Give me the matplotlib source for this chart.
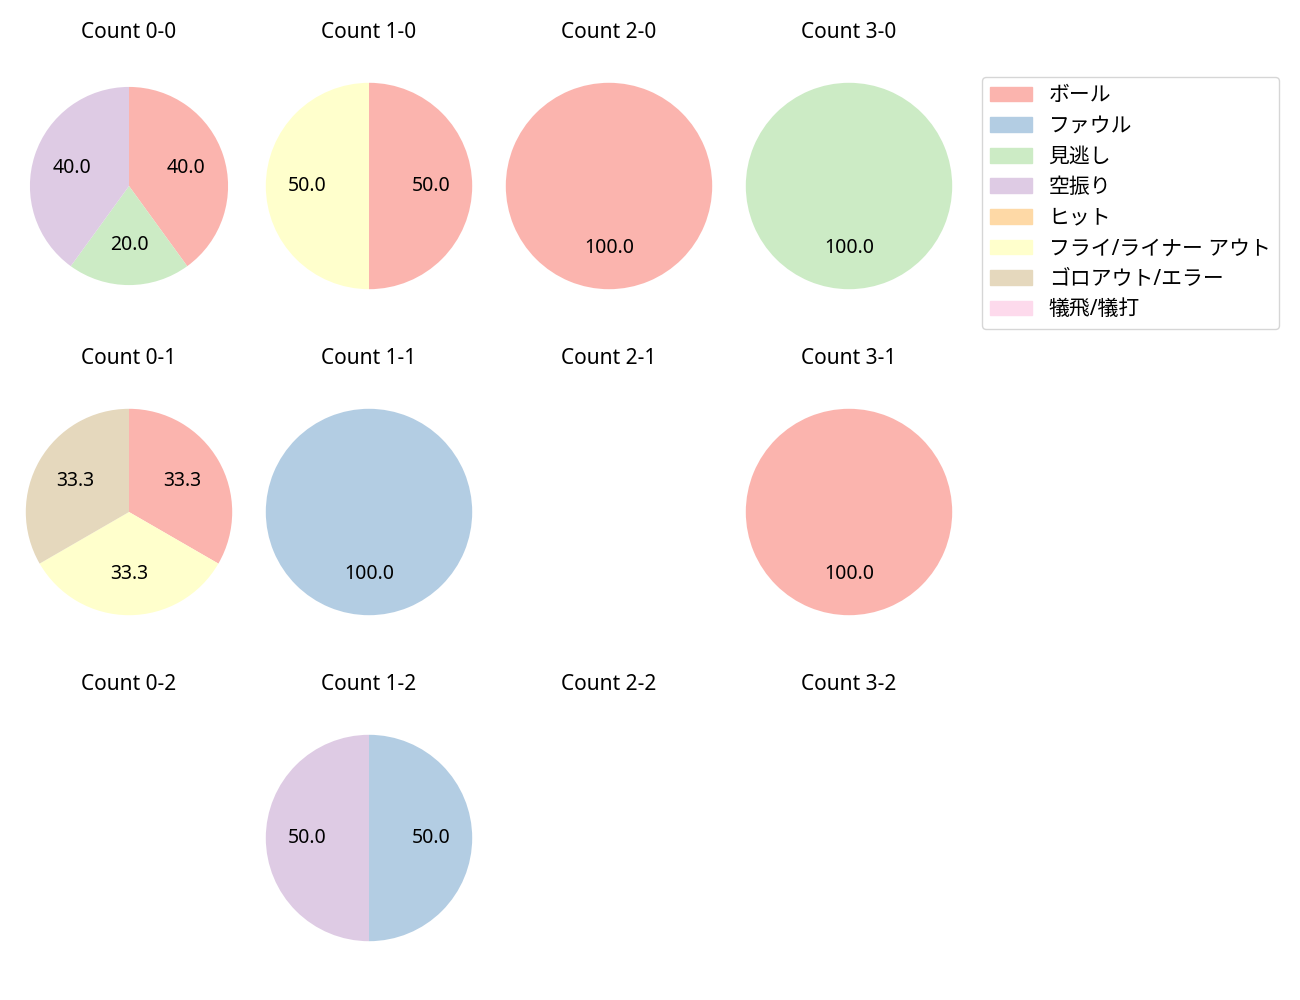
import matplotlib
matplotlib.use('Agg')
import matplotlib.pyplot as plt

plt.rcParams['font.family'] = ['Noto Sans', 'Noto Sans CJK JP', 'DejaVu Sans']
plt.rcParams['font.size'] = 13

categories = ['ボール', 'ファウル', '見逃し', '空振り', 'ヒット',
              'フライ/ライナー アウト', 'ゴロアウト/エラー', '犠飛/犠打']
colors = plt.cm.Pastel1.colors[:8]

# counts per outcome (same order as categories), keyed by "balls-strikes"
count_0_0 = [2, 0, 1, 2, 0, 0, 0, 0]
count_1_0 = [1, 0, 0, 0, 0, 1, 0, 0]
count_2_0 = [1, 0, 0, 0, 0, 0, 0, 0]
count_3_0 = [0, 0, 1, 0, 0, 0, 0, 0]
count_0_1 = [1, 0, 0, 0, 0, 1, 1, 0]
count_1_1 = [0, 1, 0, 0, 0, 0, 0, 0]
count_2_1 = [0, 0, 0, 0, 0, 0, 0, 0]
count_3_1 = [1, 0, 0, 0, 0, 0, 0, 0]
count_0_2 = [0, 0, 0, 0, 0, 0, 0, 0]
count_1_2 = [0, 1, 0, 1, 0, 0, 0, 0]
count_2_2 = [0, 0, 0, 0, 0, 0, 0, 0]
count_3_2 = [0, 0, 0, 0, 0, 0, 0, 0]

counts = {
    (0, 0): count_0_0, (1, 0): count_1_0, (2, 0): count_2_0, (3, 0): count_3_0,
    (0, 1): count_0_1, (1, 1): count_1_1, (2, 1): count_2_1, (3, 1): count_3_1,
    (0, 2): count_0_2, (1, 2): count_1_2, (2, 2): count_2_2, (3, 2): count_3_2,
}

W, H = 1300, 1000
fig = plt.figure(figsize=(13, 10), dpi=100)

size = 258  # px, axes box so that radius 1 -> ~103 px
for (b, s), vals in counts.items():
    cx = 129 + 240 * b
    cy = 186 + 326 * s
    ax = fig.add_axes([(cx - size / 2) / W, 1 - (cy + size / 2) / H, size / W, size / H])
    ax.set_title(f'Count {b}-{s}', fontsize=15, pad=14)
    if sum(vals) == 0:
        ax.set_xlim(-1.25, 1.25)
        ax.set_ylim(-1.25, 1.25)
        ax.set_aspect('equal')
        ax.axis('off')
        continue
    idx = [i for i, v in enumerate(vals) if v > 0]
    r = 0.96 if (b, s) == (0, 0) else 1.0
    ax.pie([vals[i] for i in idx], colors=[colors[i] for i in idx],
           autopct='%.1f', startangle=90, counterclock=False,
           radius=r, textprops={'fontsize': 14})

handles = [plt.Rectangle((0, 0), 1, 1, color=c) for c in colors]
fig.legend(handles, categories, loc='upper left',
           bbox_to_anchor=(982 / W, 1 - 77 / H), fontsize=15,
           labelspacing=0.46, handleheight=0.7, handlelength=2.0,
           borderaxespad=0)

fig.savefig('out.png', dpi=100)
